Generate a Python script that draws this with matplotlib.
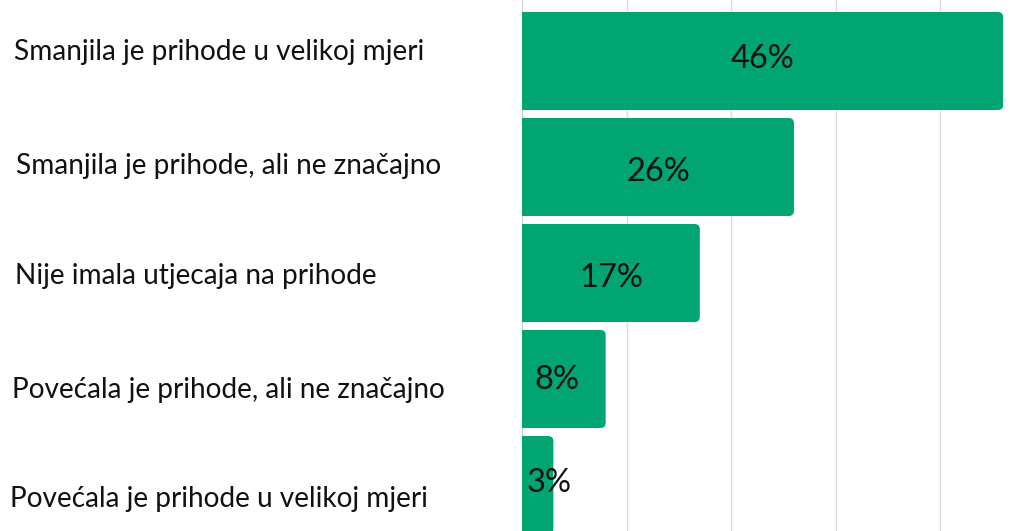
import matplotlib
matplotlib.use("Agg")
import matplotlib.pyplot as plt
from matplotlib.patches import FancyBboxPatch
import matplotlib.transforms as mtransforms

categories = [
    "Smanjila je prihode u velikoj mjeri",
    "Smanjila je prihode, ali ne značajno",
    "Nije imala utjecaja na prihode",
    "Povećala je prihode, ali ne značajno",
    "Povećala je prihode u velikoj mjeri",
]
values = [46, 26, 17, 8, 3]
value_labels = ["46%", "26%", "17%", "8%", "3%"]
grid_ticks = [0, 10, 20, 30, 40]

# layout tweaks (pixels)
label_dx = [14, 16, 15, 12, 10]
label_dy = [-9, -1.5, 3, 10.5, 14]
value_dy = [-2, 5, 5, 1, -2]
value_dx = [0, 0, 0, -7, 0]

GREEN = "#00A572"
W, H = 1032, 531
fig = plt.figure(figsize=(W / 100, H / 100), dpi=100)
ax = fig.add_axes([522 / W, 0, 1 - 522 / W, 1])
ax.set_xlim(0, (W - 522) / 10.46)
ax.set_ylim((531 - 61) / 106, -61 / 106)
ax.axis("off")

for t in grid_ticks:
    ax.axvline(t, color="#d0d0d0" if t == 0 else "#dcdcdc", lw=1.0, zorder=0)

ypos = list(range(len(categories)))
bars = ax.barh(ypos, values, height=98 / 106, color=GREEN)
ax_aspect = (106 / 10.46)
for b in bars:
    x0, y0 = b.get_x(), b.get_y()
    w, h = b.get_width(), b.get_height()
    b.set_visible(False)
    rx = 0.5
    p = FancyBboxPatch((x0 - 2, y0), w + 2, h,
                       boxstyle=f"round,pad=0,rounding_size={rx}",
                       mutation_aspect=1 / ax_aspect,
                       facecolor=GREEN, edgecolor="none", zorder=2)
    ax.add_patch(p)

fam = ["Lato", "DejaVu Sans"]
for i, (v, lab) in enumerate(zip(values, value_labels)):
    x = max(v / 2, 2.6)
    off = mtransforms.ScaledTranslation(value_dx[i] / 100, -value_dy[i] / 100, fig.dpi_scale_trans)
    ax.text(x, i, lab, ha="center", va="center", fontsize=23.5,
            family=fam, color="#111111", zorder=3, transform=ax.transData + off)

for i, cat in enumerate(categories):
    tr = mtransforms.blended_transform_factory(fig.transFigure, ax.transData)
    off = mtransforms.ScaledTranslation(label_dx[i] / 100, -label_dy[i] / 100, fig.dpi_scale_trans)
    fig.text(0, i, cat, transform=tr + off, ha="left", va="center",
             fontsize=20.2, family=fam, color="#111111")

fig.savefig("out.png", dpi=100)
